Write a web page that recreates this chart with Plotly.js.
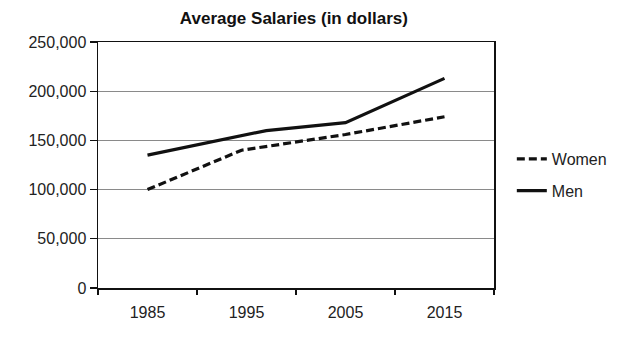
<!DOCTYPE html>
<html>
<head>
<meta charset="utf-8">
<script src="https://cdn.plot.ly/plotly-3.0.1.min.js"></script>
<style>html,body{margin:0;padding:0;background:#fff;}#chart{width:632px;height:356px;}</style>
</head>
<body>
<div id="chart"></div>
<script>
// Data
var yearLabels = [1985, 1995, 2005, 2015];
var womenYears = [1985, 1994.5, 2005, 2015];
var womenSalary = [100000, 140000, 156000, 174000];
var menYears = [1985, 1997, 2005, 2015];
var menSalary = [135000, 160000, 168000, 213000];
var yTicks = [0, 50000, 100000, 150000, 200000, 250000];
var boundaryYears = [1980, 1990, 2000, 2010, 2020];

var font = 'Liberation Sans, Arial, sans-serif';

var traces = [
  {x: womenYears, y: womenSalary, name: 'Women', mode: 'lines', legendgroup: 'w',
   line: {color: '#111', width: 3.2, dash: '8px,4px'}},
  {x: menYears, y: menSalary, name: 'Men', mode: 'lines', legendgroup: 'm',
   line: {color: '#111', width: 3.2}},
  {x: [boundaryYears[0]], y: [null], xaxis: 'x2', showlegend: false, hoverinfo: 'skip'}
];

var layout = {
  width: 632, height: 356,
  margin: {l: 98, r: 138, t: 42, b: 68},
  paper_bgcolor: '#fff', plot_bgcolor: '#fff',
  title: {text: '<b>Average Salaries (in dollars)</b>', x: 0.465, xanchor: 'center', y: 0.95, yanchor: 'middle',
          font: {family: font, size: 17, color: '#111'}},
  font: {family: font, size: 16, color: '#222'},
  xaxis: {range: [1980, 2020], tickvals: yearLabels, ticktext: yearLabels.map(String),
          ticks: '', ticklabelstandoff: 9, showgrid: false, zeroline: false, showline: true, mirror: true,
          linecolor: '#111', linewidth: 1.5, tickfont: {family: font, size: 16, color: '#222'}},
  xaxis2: {range: [1980, 2020], overlaying: 'x', anchor: 'y', side: 'bottom', tickvals: boundaryYears,
           ticks: 'outside', ticklen: 6, tickwidth: 1.2, tickcolor: '#111', showticklabels: false,
           showgrid: false, zeroline: false, showline: false},
  yaxis: {range: [0, 250000], tickvals: yTicks, tickformat: ',d', ticks: 'outside', ticklen: 7,
          tickwidth: 1.2, tickcolor: '#111', showgrid: true, gridcolor: '#8a8a8a', gridwidth: 1,
          zeroline: false, showline: true, mirror: true, linecolor: '#111', linewidth: 1.5,
          tickfont: {family: font, size: 16, color: '#222'}},
  showlegend: true,
  legend: {x: 1.045, xanchor: 'left', y: 0.594, yanchor: 'top', tracegroupgap: 8,
           font: {family: font, size: 16, color: '#222'}, bgcolor: 'rgba(0,0,0,0)'}
};

Plotly.newPlot('chart', traces, layout, {staticPlot: true, displayModeBar: false});
</script>
</body>
</html>
